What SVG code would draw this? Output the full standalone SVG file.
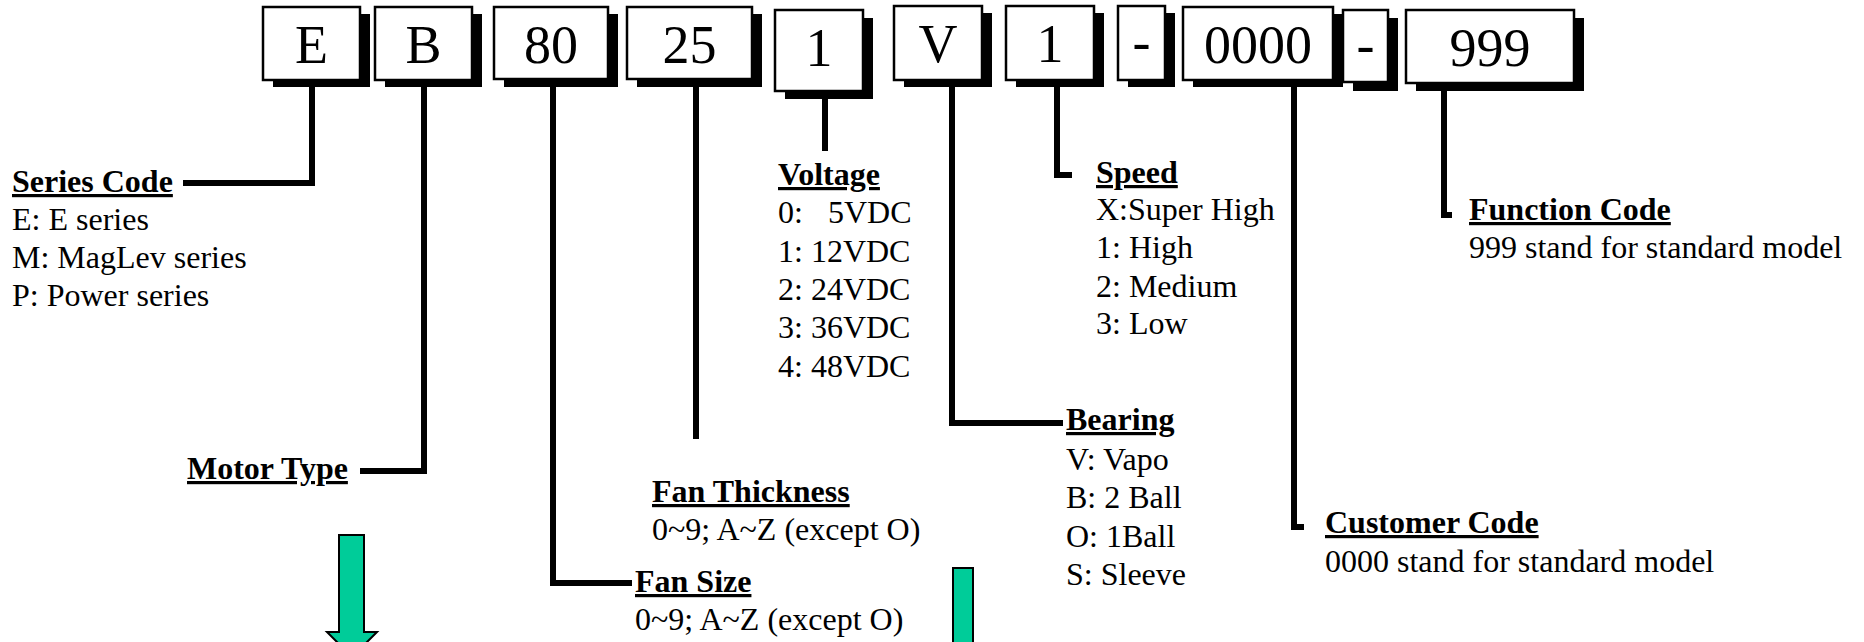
<svg xmlns="http://www.w3.org/2000/svg" width="1864" height="642" viewBox="0 0 1864 642">
<style>
.shadow{fill:#000}
.box{fill:#fff;stroke:#000;stroke-width:2.5}
.bt{font-family:"Liberation Serif","Times New Roman",serif;font-size:54px;fill:#000;text-anchor:middle}
.conn{fill:none;stroke:#000;stroke-width:6;stroke-linejoin:miter;stroke-linecap:butt}
.h{font-family:"Liberation Serif","Times New Roman",serif;font-size:32px;font-weight:bold;fill:#000;text-decoration:underline}
.t{font-family:"Liberation Serif","Times New Roman",serif;font-size:32px;fill:#000}
.arrow{fill:#00CC99;stroke:#000;stroke-width:2}
</style>
<rect width="1864" height="642" fill="#fff"/>
<g id="connectors">
<path class="conn" d="M312,80 V183 H183"/>
<path class="conn" d="M424,80 V471 H360"/>
<path class="conn" d="M553,79 V583 H632"/>
<path class="conn" d="M696,79 V439"/>
<path class="conn" d="M825,91 V151"/>
<path class="conn" d="M952,80 V423 H1063"/>
<path class="conn" d="M1057,80 V175 H1072"/>
<path class="conn" d="M1294,80 V527 H1304"/>
<path class="conn" d="M1444,83 V215 H1452"/>
</g>
<g id="box-E"><rect class="shadow" x="273" y="14" width="97" height="73"/><rect class="box" x="263" y="7" width="97" height="73"/><text class="bt" x="311.5" y="63">E</text></g>
<g id="box-B"><rect class="shadow" x="385" y="14" width="97" height="73"/><rect class="box" x="375" y="7" width="97" height="73"/><text class="bt" x="423.5" y="63">B</text></g>
<g id="box-80"><rect class="shadow" x="504" y="14" width="114" height="73"/><rect class="box" x="494" y="7" width="114" height="72"/><text class="bt" x="551" y="63">80</text></g>
<g id="box-25"><rect class="shadow" x="637" y="14" width="125" height="73"/><rect class="box" x="627" y="7" width="125" height="72"/><text class="bt" x="689.5" y="63">25</text></g>
<g id="box-1a"><rect class="shadow" x="785" y="18" width="88" height="81"/><rect class="box" x="775" y="10" width="88" height="81"/><text class="bt" x="819" y="66">1</text></g>
<g id="box-V"><rect class="shadow" x="904" y="13" width="88" height="74"/><rect class="box" x="894" y="6" width="88" height="74"/><text class="bt" x="938" y="62">V</text></g>
<g id="box-1b"><rect class="shadow" x="1016" y="13" width="88" height="74"/><rect class="box" x="1006" y="6" width="88" height="74"/><text class="bt" x="1050" y="62">1</text></g>
<g id="box-dash1"><rect class="shadow" x="1128" y="13" width="47" height="74"/><rect class="box" x="1118" y="6" width="47" height="74"/><text class="bt" x="1141.5" y="60">-</text></g>
<g id="box-0000"><rect class="shadow" x="1193" y="14" width="150" height="73"/><rect class="box" x="1183" y="7" width="150" height="73"/><text class="bt" x="1258" y="63">0000</text></g>
<g id="box-dash2"><rect class="shadow" x="1353" y="18" width="45" height="73"/><rect class="box" x="1343" y="10" width="45" height="72"/><text class="bt" x="1365.5" y="63">-</text></g>
<g id="box-999"><rect class="shadow" x="1416" y="18" width="168" height="73"/><rect class="box" x="1406" y="10" width="168" height="73"/><text class="bt" x="1490" y="66">999</text></g>
<g id="series-code">
<text class="h" x="12" y="192">Series Code</text>
<text class="t" x="12" y="230">E: E series</text>
<text class="t" x="12" y="268">M: MagLev series</text>
<text class="t" x="12" y="306">P: Power series</text>
</g>
<g id="motor-type"><text class="h" x="187" y="479">Motor Type</text></g>
<g id="fan-thickness">
<text class="h" x="652" y="502">Fan Thickness</text>
<text class="t" x="652" y="540">0~9; A~Z (except O)</text>
</g>
<g id="fan-size">
<text class="h" x="635" y="592">Fan Size</text>
<text class="t" x="635" y="630">0~9; A~Z (except O)</text>
</g>
<g id="voltage">
<text class="h" x="778" y="185">Voltage</text>
<text class="t" x="778" y="223">0:<tspan x="828">5VDC</tspan></text>
<text class="t" x="778" y="262">1: 12VDC</text>
<text class="t" x="778" y="300">2: 24VDC</text>
<text class="t" x="778" y="338">3: 36VDC</text>
<text class="t" x="778" y="377">4: 48VDC</text>
</g>
<g id="speed">
<text class="h" x="1096" y="183">Speed</text>
<text class="t" x="1096" y="220">X:Super High</text>
<text class="t" x="1096" y="258">1: High</text>
<text class="t" x="1096" y="297">2: Medium</text>
<text class="t" x="1096" y="334">3: Low</text>
</g>
<g id="bearing">
<text class="h" x="1066" y="430">Bearing</text>
<text class="t" x="1066" y="470">V: Vapo</text>
<text class="t" x="1066" y="508">B: 2 Ball</text>
<text class="t" x="1066" y="547">O: 1Ball</text>
<text class="t" x="1066" y="585">S: Sleeve</text>
</g>
<g id="customer-code">
<text class="h" x="1325" y="533">Customer Code</text>
<text class="t" x="1325" y="572">0000 stand for standard model</text>
</g>
<g id="function-code">
<text class="h" x="1469" y="220">Function Code</text>
<text class="t" x="1469" y="258">999 stand for standard model</text>
</g>
<g id="arrow-left"><path class="arrow" d="M339,535 H364 V632 H377 L352,657 L327,632 H339 Z"/></g>
<g id="arrow-right"><path class="arrow" d="M953,568 H973 V660 H953 Z"/></g>
</svg>
